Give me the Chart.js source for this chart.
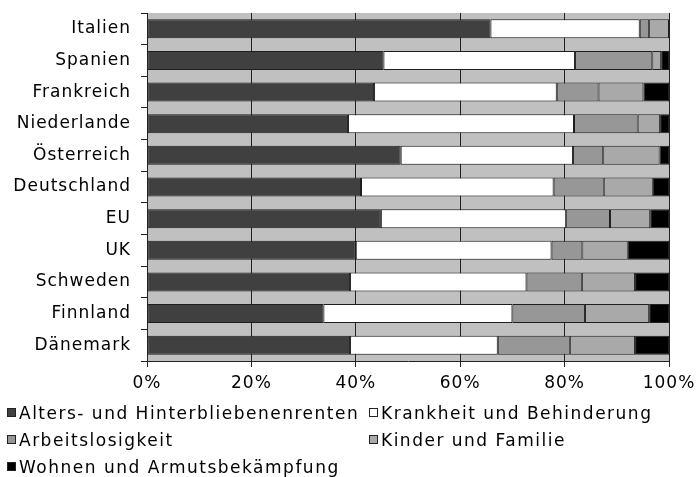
<!DOCTYPE html>
<html lang="de">
<head>
<meta charset="utf-8">
<title>Sozialleistungen nach Funktionen</title>
<script src="https://cdn.jsdelivr.net/npm/chart.js@4.4.1/dist/chart.umd.min.js"></script>
<style>
  html, body { margin: 0; padding: 0; background: #fff; }
  body { width: 700px; height: 477px; position: relative; overflow: hidden; font-family: "DejaVu Sans", Verdana, sans-serif; }
  #wrap { position: absolute; left: 0; top: 0; width: 700px; height: 401px; }
  #legend { position: absolute; left: 7px; top: 399px; display: grid; grid-template-columns: 362px auto; row-gap: 0; font-size: 17px; letter-spacing: 1.5px; color: #000; }
  #legend .item { display: flex; align-items: center; height: 27px; white-space: nowrap; }
  #legend .box { width: 7px; height: 7px; border: 1px solid #222; margin-right: 3px; flex: none; }
</style>
</head>
<body>
<div id="wrap"><canvas id="chart"></canvas></div>
<div id="legend"></div>
<script>
const countries = ["Italien", "Spanien", "Frankreich", "Niederlande", "Österreich", "Deutschland", "EU", "UK", "Schweden", "Finnland", "Dänemark"];
const seriesNames = ["Alters- und Hinterbliebenenrenten", "Krankheit und Behinderung", "Arbeitslosigkeit", "Kinder und Familie", "Wohnen und Armutsbekämpfung"];

// shares in percent, one entry per country
const renten = [65.8, 45.3, 43.5, 38.5, 48.6, 41.0, 44.8, 40.0, 38.9, 33.8, 38.9];
const krankheit = [28.6, 36.7, 35.0, 43.3, 33.0, 36.9, 35.5, 37.5, 33.8, 36.2, 28.3];
const arbeitslos = [1.8, 14.8, 8.0, 12.2, 5.8, 9.6, 8.4, 5.9, 10.6, 13.9, 13.8];
const kinder = [3.8, 1.7, 8.6, 4.3, 10.8, 9.4, 7.7, 8.7, 10.2, 12.3, 12.5];
const wohnen = [0.0, 1.5, 4.9, 1.7, 1.8, 3.1, 3.6, 7.9, 6.5, 3.8, 6.5];

const xTicks = [0, 20, 40, 60, 80, 100];

const colors = ["#404040", "#ffffff", "#979797", "#a9a9a9", "#000000"];
const values = [renten, krankheit, arbeitslos, kinder, wohnen];

const font = { family: "'DejaVu Sans', Verdana, sans-serif", size: 17 };

const plotBackground = {
  id: "plotBackground",
  beforeDraw(chart) {
    const { ctx, chartArea: a } = chart;
    ctx.save();
    ctx.fillStyle = "#c0c0c0";
    ctx.fillRect(a.left, a.top, a.right - a.left, a.bottom - a.top);
    ctx.restore();
    ctx.letterSpacing = "1px";
  }
};

const chart = new Chart(document.getElementById("chart"), {
  type: "bar",
  data: {
    labels: countries,
    datasets: seriesNames.map((name, i) => ({
      label: name,
      data: values[i],
      backgroundColor: colors[i],
      borderColor: "#1e1e1e",
      borderWidth: 1,
      borderSkipped: false,
      barPercentage: 0.6,
      categoryPercentage: 1
    }))
  },
  options: {
    indexAxis: "y",
    responsive: true,
    maintainAspectRatio: false,
    animation: false,
    layout: { padding: { top: 13, right: 31, left: 0, bottom: 0 } },
    plugins: {
      legend: { display: false },
      tooltip: { enabled: false }
    },
    scales: {
      x: {
        stacked: true,
        min: 0,
        max: 100,
        afterBuildTicks: scale => { scale.ticks = xTicks.map(v => ({ value: v })); },
        afterFit: scale => { scale.height = 40; },
        ticks: { color: "#000", font, padding: 6, maxRotation: 0, callback: v => v + "%" },
        grid: { color: "#222", lineWidth: 1, tickLength: 6 },
        border: { display: true, color: "#222" }
      },
      y: {
        stacked: true,
        afterFit: scale => {
          scale.width = 147;
          scale.paddingTop = 0;
          scale.paddingBottom = 0;
        },
        ticks: { color: "#000", font, padding: 10 },
        grid: { offset: true, drawOnChartArea: false, color: "#222", tickLength: 6 },
        border: { display: true, color: "#222" }
      }
    }
  },
  plugins: [plotBackground]
});

const legend = document.getElementById("legend");
chart.data.datasets.forEach(ds => {
  const item = document.createElement("div");
  item.className = "item";
  const box = document.createElement("span");
  box.className = "box";
  box.style.background = ds.backgroundColor;
  const text = document.createElement("span");
  text.textContent = ds.label;
  item.appendChild(box);
  item.appendChild(text);
  legend.appendChild(item);
});
</script>
</body>
</html>
